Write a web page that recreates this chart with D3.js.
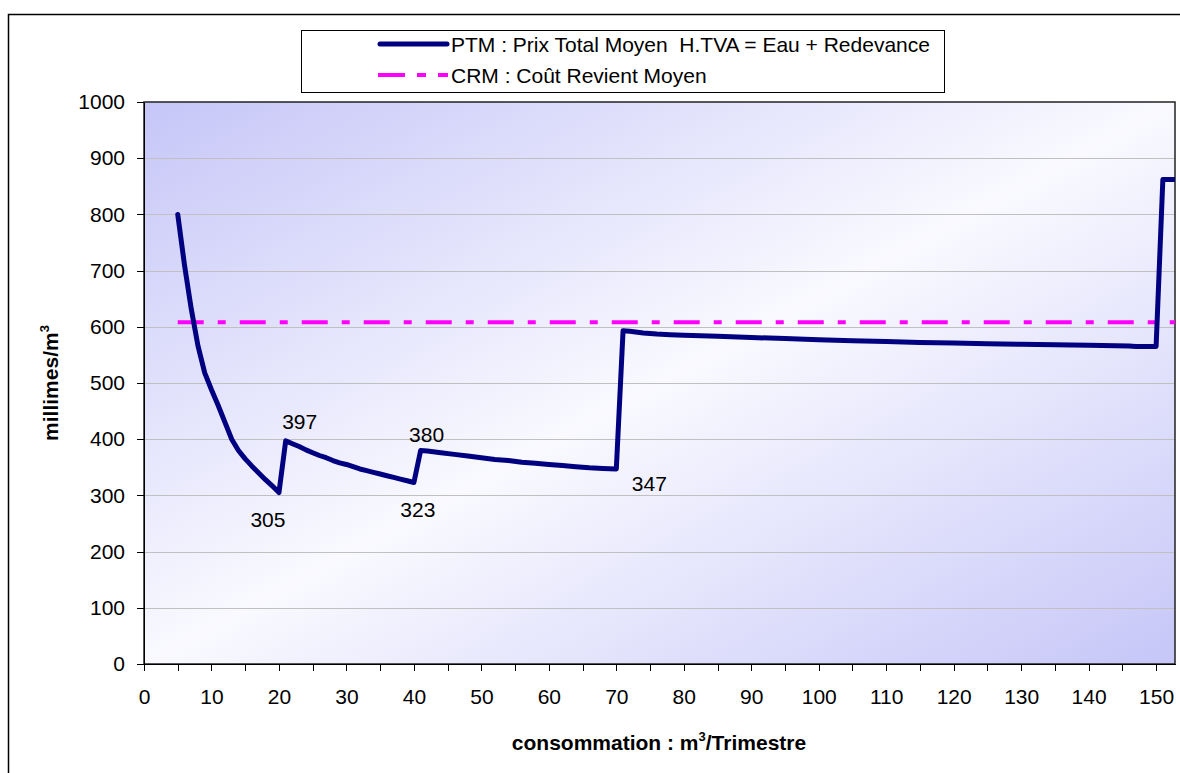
<!DOCTYPE html>
<html>
<head>
<meta charset="utf-8">
<script src="https://cdn.jsdelivr.net/npm/d3@7/dist/d3.min.js"></script>
<style>
    body { margin: 0; background: #fff; }
    svg { font-family: "Liberation Sans", Arial, sans-serif; }
    .grid line { stroke: #c0c0c0; stroke-width: 1; shape-rendering: crispEdges; }
    .axis path, .axis line { stroke: #000; stroke-width: 1; shape-rendering: crispEdges; }
    .axis text { font-size: 21px; fill: #000; font-family: "Liberation Sans", Arial, sans-serif; }
    .vlabel { font-size: 21px; fill: #000; }
    .legend text { font-size: 21px; fill: #000; white-space: pre; }
    .title { font-size: 21px; font-weight: bold; fill: #000; }
</style>
</head>
<body>
<svg id="chart" width="1180" height="773"></svg>
<script>

// consommation (m3/trimestre) and PTM (millimes/m3)
var consommation = [5, 6, 7, 8, 9, 10, 11, 12, 13, 14, 15, 16, 17, 18, 19, 20,
    21, 22, 23, 24, 25, 26, 27, 28, 29, 30, 31, 32, 33, 34, 35, 36, 37, 38, 39, 40,
    41, 42, 44, 46, 48, 50, 52, 54, 56, 58, 60, 62, 64, 66, 68, 70,
    71, 72, 74, 76, 78, 80, 85, 90, 95, 100, 105, 110, 115, 120, 125, 130, 135, 140, 146, 147, 150,
    151, 153];
var ptm = [800, 710, 632, 566, 518, 488, 460, 430, 400, 380, 365, 352, 340, 328, 317, 305,
    397, 392, 387, 381, 376, 371, 367, 362, 358, 355, 351, 347, 344, 341, 338, 335, 332, 329, 326, 323,
    380, 379, 376, 373, 370, 367, 364, 362, 359, 357, 355, 353, 351, 349, 348, 347,
    593, 592, 589, 587, 586, 585, 583, 581, 579, 577, 575, 574, 572, 571, 570, 569, 568, 567, 566, 565, 565,
    862, 862];

// CRM : Coût Revient Moyen
var crmRange = [5, 153];
var crmValue = 608;

// points that carry a value label
var labelled = [20, 21, 40, 41, 70];

var yTicks = d3.range(0, 1001, 100);
var xTicks = d3.range(0, 151, 5);

var legendLabels = ["PTM : Prix Total Moyen  H.TVA = Eau + Redevance", "CRM : Coût Revient Moyen"];

var svg = d3.select("#chart");

//Plot area in pixels.
var plot = {left: 144, top: 102, right: 1175, bottom: 664};

var x = d3.scaleLinear().domain([0, 152.8]).range([plot.left, plot.right]);
var y = d3.scaleLinear().domain([0, 1000]).range([plot.bottom, plot.top]);

var defs = svg.append("defs");
var grad = defs.append("linearGradient").attr("id", "bg")
    .attr("x1", 0).attr("y1", 0).attr("x2", 1).attr("y2", 1);
grad.append("stop").attr("offset", "0%").attr("stop-color", "#c6c6f8");
grad.append("stop").attr("offset", "50%").attr("stop-color", "#f9f9ff");
grad.append("stop").attr("offset", "100%").attr("stop-color", "#c6c6f8");

defs.append("clipPath").attr("id", "clip").append("rect")
    .attr("x", plot.left).attr("y", plot.top - 10)
    .attr("width", plot.right - plot.left).attr("height", plot.bottom - plot.top + 10);

//Outer chart border (runs off the right and bottom of the picture).
svg.append("rect")
    .attr("x", 8.5).attr("y", 14.5).attr("width", 1200).attr("height", 800)
    .attr("fill", "#fff").attr("stroke", "#000").attr("stroke-width", 1.5);

//Plot background.
svg.append("rect")
    .attr("x", plot.left).attr("y", plot.top)
    .attr("width", plot.right - plot.left).attr("height", plot.bottom - plot.top)
    .attr("fill", "url(#bg)");

//Horizontal gridlines.
svg.append("g").attr("class", "grid")
    .selectAll("line")
    .data(yTicks.filter(function(d) { return d > 0 && d < 1000; }))
    .enter().append("line")
    .attr("x1", plot.left).attr("x2", plot.right)
    .attr("y1", function(d) { return Math.round(y(d)) + 0.5; })
    .attr("y2", function(d) { return Math.round(y(d)) + 0.5; });

svg.append("rect")
    .attr("x", plot.left).attr("y", plot.top)
    .attr("width", plot.right - plot.left).attr("height", plot.bottom - plot.top)
    .attr("fill", "none").attr("stroke", "#222").attr("stroke-width", 1.5);

//Axes.
svg.append("g").attr("class", "axis")
    .attr("transform", "translate(" + plot.left + ",0)")
    .call(d3.axisLeft(y).tickValues(yTicks).tickSize(7).tickSizeOuter(0).tickPadding(12)
        .tickFormat(d3.format("d")));

svg.append("g").attr("class", "axis")
    .attr("transform", "translate(0," + plot.bottom + ")")
    .call(d3.axisBottom(x).tickValues(xTicks).tickSize(7).tickSizeOuter(0).tickPadding(18)
        .tickFormat(function(d) { return d % 10 === 0 ? d : ""; }));

//Series.
var series = consommation.map(function(c, i) { return [c, ptm[i]]; });
var line = d3.line()
    .x(function(d) { return x(d[0]); })
    .y(function(d) { return y(d[1]); });

var g = svg.append("g").attr("clip-path", "url(#clip)");

g.append("line")
    .attr("x1", x(crmRange[0])).attr("x2", x(crmRange[1]))
    .attr("y1", y(crmValue)).attr("y2", y(crmValue))
    .attr("stroke", "#ff00ff").attr("stroke-width", 4)
    .attr("stroke-dasharray", "26,14,8,14");

g.append("path")
    .datum(series)
    .attr("d", line)
    .attr("fill", "none")
    .attr("stroke", "#000080")
    .attr("stroke-width", 5)
    .attr("stroke-linejoin", "round")
    .attr("stroke-linecap", "round");

//Value labels; offsets keep them clear of the line.
var offsets = {20: [-11, 27], 21: [14, -19], 40: [4, 27], 41: [6, -16], 70: [33, 15]};
svg.append("g").selectAll("text")
    .data(labelled)
    .enter().append("text")
    .attr("class", "vlabel")
    .attr("text-anchor", "middle")
    .attr("dominant-baseline", "central")
    .attr("x", function(c) { return x(c) + offsets[c][0]; })
    .attr("y", function(c) { return y(ptm[consommation.indexOf(c)]) + offsets[c][1]; })
    .text(function(c) { return ptm[consommation.indexOf(c)]; });

//Axis titles.
var xt = svg.append("text").attr("class", "title")
    .attr("x", 659).attr("y", 750).attr("text-anchor", "middle");
xt.append("tspan").text("consommation : m");
xt.append("tspan").attr("font-size", "13px").attr("dy", -9).text("3");
xt.append("tspan").attr("dy", 9).text("/Trimestre");

var yt = svg.append("text").attr("class", "title")
    .attr("transform", "translate(58,383) rotate(-90)").attr("text-anchor", "middle");
yt.append("tspan").text("millimes/m");
yt.append("tspan").attr("font-size", "13px").attr("dy", -9).text("3");

//Legend.
var legend = svg.append("g").attr("class", "legend");
legend.append("rect")
    .attr("x", 301.5).attr("y", 30.5).attr("width", 643).attr("height", 62)
    .attr("fill", "#fff").attr("stroke", "#000").attr("stroke-width", 1);
legend.append("line")
    .attr("x1", 380).attr("x2", 447).attr("y1", 44).attr("y2", 44)
    .attr("stroke", "#000080").attr("stroke-width", 5).attr("stroke-linecap", "round");
legend.append("line")
    .attr("x1", 378).attr("x2", 448).attr("y1", 75).attr("y2", 75)
    .attr("stroke", "#ff00ff").attr("stroke-width", 4).attr("stroke-dasharray", "27,12,9,12");
legend.selectAll("text.item")
    .data(legendLabels)
    .enter().append("text")
    .attr("class", "item")
    .attr("x", 451)
    .attr("y", function(d, i) { return 44 + i * 31; })
    .attr("dominant-baseline", "central")
    .text(function(d) { return d; });

</script>
</body>
</html>
